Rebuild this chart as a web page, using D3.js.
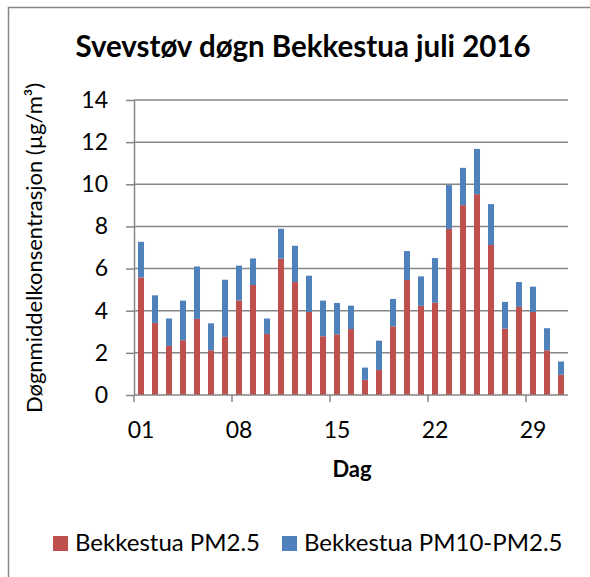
<!DOCTYPE html>
<html>
<head>
<meta charset="UTF-8" />
<title>Svevstøv døgn Bekkestua juli 2016</title>
<script src="https://d3js.org/d3.v7.min.js"></script>
<style>
  body { margin: 0; background: #fff; }
  text { font-family: Lato, "Open Sans", sans-serif; fill: #000; }
  .grid line { stroke: #868686; stroke-width: 1.5; }
  .axis path, .axis line { stroke: #868686; stroke-width: 1.5; }
</style>
</head>
<body>
<script>
// days of July 2016
var days = d3.range(1, 32).map(function(d) { return (d < 10 ? "0" : "") + d; });
// PM2.5 daily means
var pm25 = [5.58, 3.42, 2.33, 2.60, 3.61, 2.12, 2.76, 4.49, 5.22, 2.90,
            6.47, 5.36, 3.94, 2.79, 2.88, 3.13, 0.72, 1.19, 3.26, 5.46,
            4.23, 4.38, 7.88, 9.01, 9.53, 7.12, 3.15, 4.18, 3.94, 2.12, 0.96];
// PM10 daily means (total bar height)
var pm10 = [7.27, 4.73, 3.63, 4.48, 6.10, 3.40, 5.47, 6.14, 6.48, 3.63,
            7.89, 7.08, 5.66, 4.48, 4.37, 4.24, 1.30, 2.58, 4.56, 6.83,
            5.63, 6.50, 9.96, 10.78, 11.68, 9.06, 4.42, 5.36, 5.14, 3.17, 1.59];
var tickDays = ["01", "08", "15", "22", "29"];
var yTicks = [0, 2, 4, 6, 8, 10, 12, 14];
var seriesNames = ["Bekkestua PM2.5", "Bekkestua PM10-PM2.5"];
var colors = ["#C0504D", "#4F81BD"];

(function() {
  var width = 590, height = 577;
  var pLeft = 134, pRight = 568, pTop = 100, pBottom = 395;

  var svg = d3.select("body").append("svg").attr("width", width).attr("height", height);

  // chart frame
  svg.append("rect").attr("x", 8.5).attr("y", 7.5).attr("width", 620).attr("height", 620)
    .attr("fill", "#fff").attr("stroke", "#868686").attr("stroke-width", 1.5);

  var x = d3.scaleBand().domain(days).range([pLeft, pRight]).paddingInner(0.57).paddingOuter(0.285);
  var xb = d3.scaleBand().domain(days).range([pLeft, pRight]);
  var y = d3.scaleLinear().domain([0, 14]).range([pBottom, pTop]);

  // gridlines
  svg.append("g").attr("class", "grid").selectAll("line").data(yTicks.slice(1)).enter().append("line")
    .attr("x1", pLeft).attr("x2", pRight)
    .attr("y1", function(d) { return y(d); }).attr("y2", function(d) { return y(d); });

  // stacked data
  var rows = days.map(function(d, i) { return { day: d, a: pm25[i], b: pm10[i] - pm25[i] }; });
  var stack = d3.stack().keys(["a", "b"])(rows);

  svg.append("g").selectAll("g").data(stack).enter().append("g")
    .attr("fill", function(d, i) { return colors[i]; })
    .selectAll("rect").data(function(d) { return d; }).enter().append("rect")
    .attr("x", function(d) { return x(d.data.day); })
    .attr("width", x.bandwidth())
    .attr("y", function(d) { return y(d[1]); })
    .attr("height", function(d) { return y(d[0]) - y(d[1]); });

  // y axis
  var yAxis = svg.append("g").attr("class", "axis").attr("transform", "translate(" + pLeft + ",0)")
    .call(d3.axisLeft(y).tickValues(yTicks).tickSize(8).tickSizeOuter(0).tickPadding(18));
  yAxis.selectAll("text").style("font-size", "23px").style("font-family", "Lato, sans-serif");

  // x axis: ticks at band boundaries every 7 days, labels centered on bands
  var xg = svg.append("g").attr("class", "axis");
  xg.append("line").attr("x1", pLeft).attr("x2", pRight).attr("y1", pBottom).attr("y2", pBottom);
  xg.selectAll(".tk").data(tickDays).enter().append("line")
    .attr("x1", function(d) { return xb(d); }).attr("x2", function(d) { return xb(d); })
    .attr("y1", pBottom).attr("y2", pBottom + 7);
  xg.selectAll(".lb").data(tickDays).enter().append("text")
    .attr("x", function(d) { return xb(d) + xb.bandwidth() / 2; })
    .attr("y", 438).attr("text-anchor", "middle").style("font-size", "23px")
    .text(function(d) { return d; });

  // title
  svg.append("text").attr("x", 303).attr("y", 57).attr("text-anchor", "middle")
    .style("font-size", "29.5px").style("font-weight", "bold")
    .text("Svevstøv døgn Bekkestua juli 2016");

  // axis titles
  svg.append("text").attr("x", 352).attr("y", 477).attr("text-anchor", "middle")
    .style("font-size", "22px").style("font-weight", "bold").text("Dag");
  svg.append("text").attr("transform", "translate(42,248) rotate(-90)").attr("text-anchor", "middle")
    .style("font-size", "22px").text("Døgnmiddelkonsentrasjon (µg/m³)");

  // legend
  var legX = [53, 282];
  var leg = svg.append("g").selectAll("g").data(seriesNames).enter().append("g")
    .attr("transform", function(d, i) { return "translate(" + legX[i] + ",536)"; });
  leg.append("rect").attr("width", 15).attr("height", 15).attr("fill", function(d, i) { return colors[i]; });
  leg.append("text").attr("x", 22).attr("y", 15).style("font-size", "24px").text(function(d) { return d; });
})();
</script>
</body>
</html>
